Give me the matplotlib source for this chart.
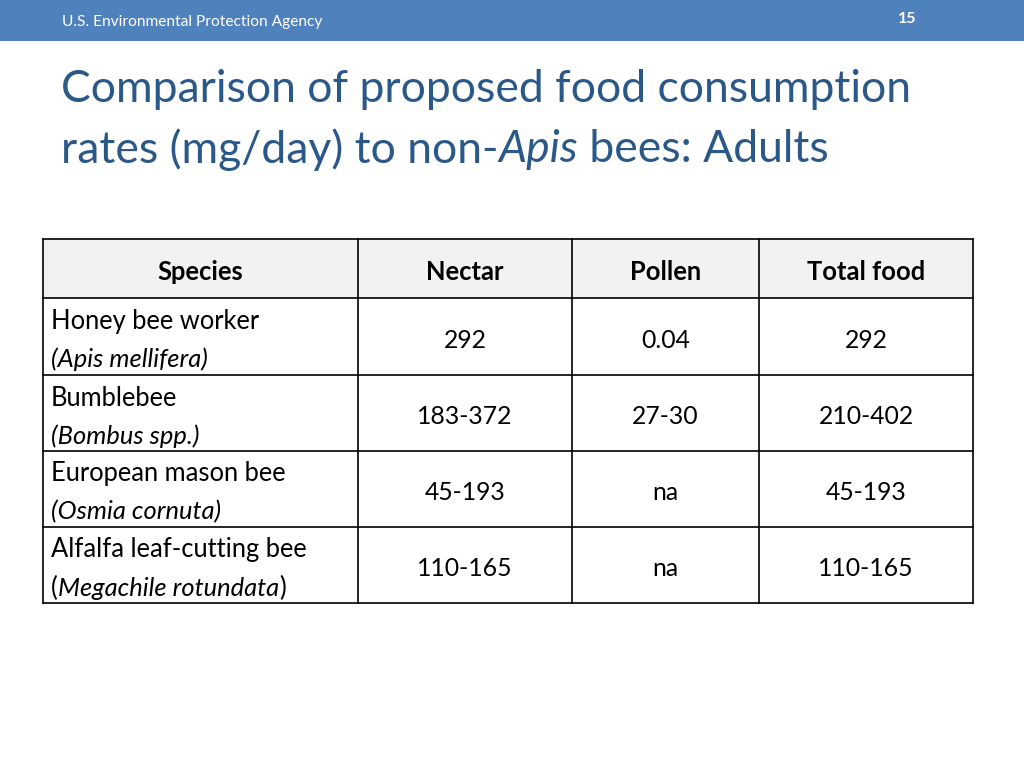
import matplotlib
matplotlib.use("Agg")
import matplotlib.pyplot as plt
from matplotlib.patches import Rectangle

# ---- data ----
header_left = "U.S. Environmental Protection Agency"
page_number = "15"
columns = ["Species", "Nectar", "Pollen", "Total food"]
species_common = ["Honey bee worker", "Bumblebee", "European mason bee", "Alfalfa leaf-cutting bee"]
species_latin = ["Apis mellifera", "Bombus spp.", "Osmia cornuta", "Megachile rotundata"]
latin_paren_italic = [True, True, True, False]
nectar = ["292", "183-372", "45-193", "110-165"]
pollen = ["0.04", "27-30", "na", "na"]
total_food = ["292", "210-402", "45-193", "110-165"]

FONT = ["Lato", "DejaVu Sans"]
W, H = 1024, 768
fig = plt.figure(figsize=(W / 100, H / 100), dpi=100)
ax = fig.add_axes([0, 0, 1, 1])
ax.set_xlim(0, W)
ax.set_ylim(H, 0)
ax.axis("off")
renderer = fig.canvas.get_renderer()

def px(p):
    return p * 0.72

def run_text(x, y, pieces, size, color, va="center"):
    """pieces: list of (text, style, weight)"""
    for txt, style, weight in pieces:
        t = ax.text(x, y, txt, fontsize=size, color=color, style=style, weight=weight,
                    family=FONT, ha="left", va=va)
        bb = t.get_window_extent(renderer=renderer)
        x += bb.width  # 1 data unit == 1 pixel

# header bar
ax.add_patch(Rectangle((0, 0), W, 41, facecolor="#4F81BD", edgecolor="none"))
ax.text(62, 22, header_left, fontsize=px(15.5), color="white", family=FONT, va="center", ha="left")
ax.text(907, 19, page_number, fontsize=px(16), color="white", family=FONT, va="center", ha="center", weight="bold")

# title
title_color = "#2A5889"
tsize = px(44.5)
run_text(61, 89, [("Comparison of proposed food consumption", "normal", "normal")], tsize, title_color)
run_text(61, 150, [("rates (mg/day) to non-", "normal", "normal"), ("Apis", "italic", "normal"),
                   (" bees: Adults", "normal", "normal")], tsize, title_color)

# table geometry
col_x = [43, 358, 572, 759, 973]
row_y = [239, 298, 375, 451, 527, 603]
ax.add_patch(Rectangle((col_x[0], row_y[0]), col_x[-1] - col_x[0], row_y[1] - row_y[0],
                       facecolor="#F2F2F2", edgecolor="none"))
for x in col_x:
    ax.plot([x, x], [row_y[0], row_y[-1]], color="black", lw=1.2, solid_capstyle="projecting")
for y in row_y:
    ax.plot([col_x[0], col_x[-1]], [y, y], color="black", lw=1.2, solid_capstyle="projecting")

fs = px(25.5)
vfs = px(24.8)
for j, c in enumerate(columns):
    cx = (col_x[j] + col_x[j + 1]) / 2
    ax.text(cx, (row_y[0] + row_y[1]) / 2 + 3, c, fontsize=fs, weight="bold",
            family=FONT, ha="center", va="center", color="black")

for i in range(len(species_common)):
    top, bot = row_y[i + 1], row_y[i + 2]
    ax.text(51, top + 23, species_common[i], fontsize=fs, family=FONT, ha="left", va="center", color="black")
    if latin_paren_italic[i]:
        pieces = [("(" + species_latin[i] + ")", "italic", "normal")]
    else:
        pieces = [("(", "normal", "normal"), (species_latin[i], "italic", "normal"), (")", "normal", "normal")]
    run_text(51, top + 61, pieces, fs, "black")
    cy = (top + bot) / 2 + 4
    for j, vals in enumerate([nectar, pollen, total_food]):
        cx = (col_x[j + 1] + col_x[j + 2]) / 2
        ax.text(cx, cy, vals[i], fontsize=vfs, family=FONT, ha="center", va="center", color="black")

fig.savefig("out.png", dpi=100)
